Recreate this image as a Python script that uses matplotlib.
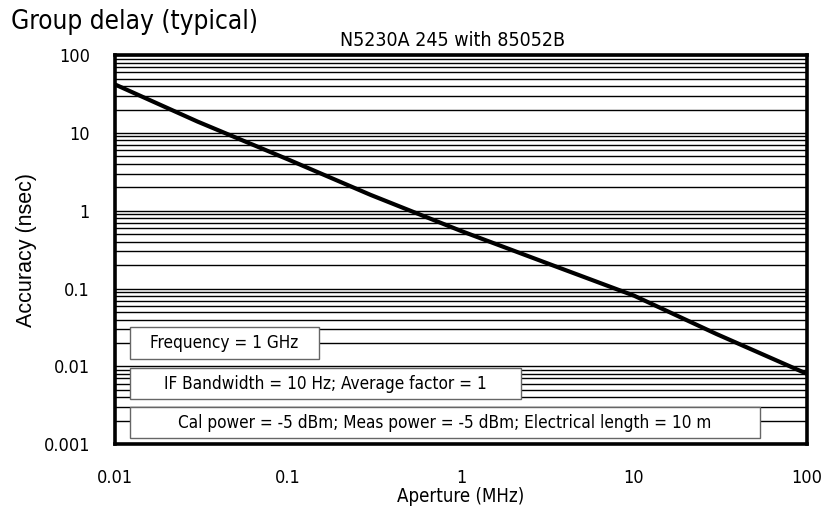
import numpy as np
import matplotlib.pyplot as plt
from matplotlib.patches import Rectangle
from matplotlib.ticker import LogLocator, FixedLocator, FixedFormatter, NullFormatter

plt.rcParams['font.family'] = ['DejaVu Sans']
plt.rcParams['font.stretch'] = 'condensed'

# typical group delay accuracy vs aperture
aperture_mhz = [0.01, 0.03, 0.1, 0.3, 1, 3, 10, 30, 100]
accuracy_ns = [42.0, 14.0, 4.57, 1.6, 0.55, 0.22, 0.081, 0.026, 0.008]

x_ticks = [0.01, 0.1, 1, 10, 100]
x_tick_labels = ['0.01', '0.1', '1', '10', '100']
y_ticks = [0.001, 0.01, 0.1, 1, 10, 100]
y_tick_labels = ['0.001', '0.01', '0.1', '1', '10', '100']

notes = [
    'Frequency = 1 GHz',
    'IF Bandwidth = 10 Hz; Average factor = 1',
    'Cal power = -5 dBm; Meas power = -5 dBm; Electrical length = 10 m',
]
# box extents in axes fractions: (x0, x1, y0, y1)
note_boxes = [
    (0.0217, 0.295, 0.2185, 0.301),
    (0.0217, 0.587, 0.116, 0.195),
    (0.0217, 0.932, 0.0154, 0.095),
]

fig = plt.figure(figsize=(8.21, 5.25), dpi=100)
ax = fig.add_axes([0.140, 0.154, 0.843, 0.741])

ax.set_xscale('log')
ax.set_yscale('log')
ax.set_xlim(0.01, 100)
ax.set_ylim(0.001, 100)

ax.plot(aperture_mhz, accuracy_ns, color='black', lw=3, zorder=5,
        solid_capstyle='butt', solid_joinstyle='round')

ax.xaxis.set_major_locator(FixedLocator(x_ticks))
ax.xaxis.set_major_formatter(FixedFormatter(x_tick_labels))
ax.xaxis.set_minor_locator(FixedLocator([]))
ax.yaxis.set_major_locator(FixedLocator(y_ticks))
ax.yaxis.set_major_formatter(FixedFormatter(y_tick_labels))
ax.yaxis.set_minor_locator(LogLocator(base=10, subs=np.arange(2, 10)))
ax.yaxis.set_minor_formatter(NullFormatter())

ax.set_axisbelow(True)
ax.yaxis.grid(True, which='both', color='black', lw=1.0)
ax.tick_params(which='both', length=0)
ax.tick_params(axis='y', pad=18, labelsize=13)
ax.tick_params(axis='x', pad=18, labelsize=13)

for side in ax.spines.values():
    side.set_linewidth(2.6)
    side.set_color('black')
    side.set_zorder(6)

for text, (x0, x1, y0, y1) in zip(notes, note_boxes):
    ax.add_patch(Rectangle((x0, y0), x1 - x0, y1 - y0, transform=ax.transAxes,
                           facecolor='white', edgecolor='#666666', lw=1.0,
                           zorder=3))
    ax.text((x0 + x1) / 2, (y0 + y1) / 2, text, transform=ax.transAxes,
            ha='center', va='center', fontsize=12.3, zorder=4)

ax.set_xlabel('Aperture (MHz)', fontsize=13.4, va='center')
ax.xaxis.set_label_coords(0.5, -0.134)
ax.set_ylabel('Accuracy (nsec)', fontsize=15.5, va='center',
              family='Liberation Sans', fontstretch='normal')
ax.yaxis.set_label_coords(-0.128, 0.5)

fig.text(0.013, 0.945, 'Group delay (typical)', fontsize=18.8, ha='left', va='baseline')
fig.text(0.551, 0.912, 'N5230A 245 with 85052B', fontsize=14, ha='center', va='baseline')

fig.savefig('out.png', dpi=100)
